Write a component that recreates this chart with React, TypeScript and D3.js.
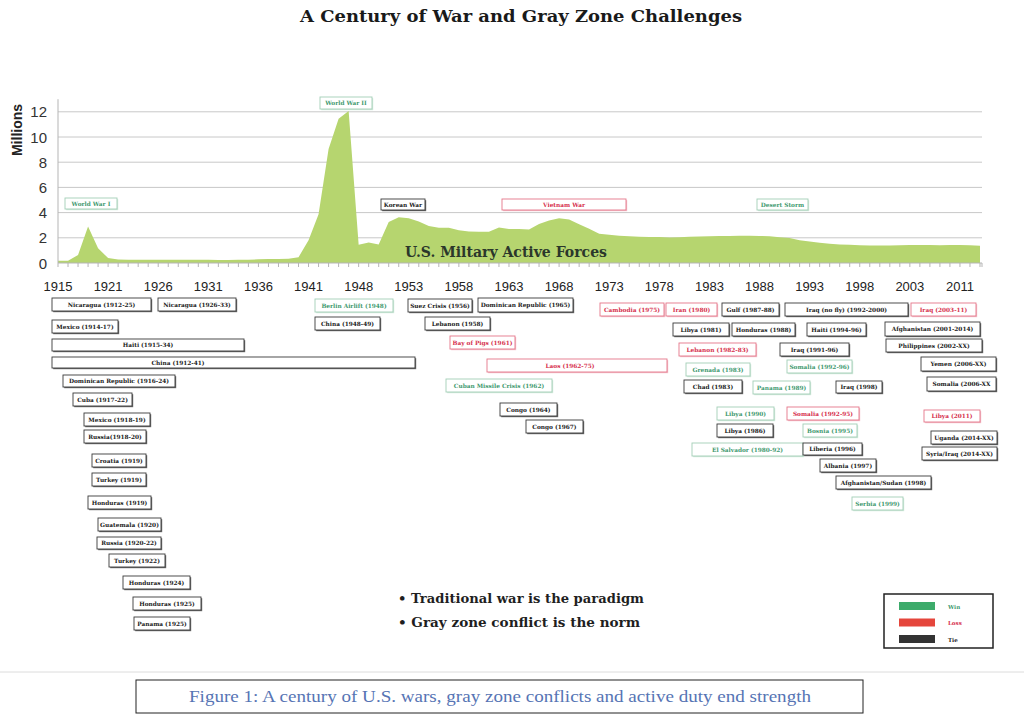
import React from "react";
import * as d3 from "d3";

// ---------- DATA ----------
const years: number[] = [
  1915, 1916, 1917, 1918, 1919, 1921, 1922, 1923, 1924, 1925, 1926, 1927, 1928, 1929, 1930,
  1931, 1932, 1933, 1934, 1935, 1936, 1937, 1938, 1939, 1940, 1941, 1942, 1943, 1944, 1945,
  1948, 1949, 1950, 1951, 1952, 1953, 1954, 1955, 1956, 1957, 1958, 1959, 1960, 1961, 1962,
  1963, 1964, 1965, 1966, 1967, 1968, 1969, 1970, 1971, 1972, 1973, 1974, 1975, 1976, 1977,
  1978, 1979, 1980, 1981, 1982, 1983, 1984, 1985, 1986, 1987, 1988, 1989, 1990, 1991, 1992,
  1993, 1994, 1995, 1996, 1997, 1998, 1999, 2000, 2001, 2002, 2003, 2004, 2006, 2008, 2010,
  2011, 2012, 2013,
];
// U.S. military active forces, millions
const activeForces: number[] = [
  0.17, 0.18, 0.64, 2.9, 1.17, 0.39, 0.27, 0.25, 0.26, 0.25, 0.25, 0.25, 0.25, 0.26, 0.26,
  0.25, 0.24, 0.24, 0.25, 0.25, 0.29, 0.31, 0.32, 0.33, 0.46, 1.8, 3.86, 9.04, 11.45, 12.06,
  1.45, 1.62, 1.46, 3.25, 3.64, 3.56, 3.3, 2.94, 2.8, 2.8, 2.6, 2.5, 2.48, 2.48, 2.81,
  2.7, 2.69, 2.66, 3.09, 3.38, 3.55, 3.46, 3.07, 2.71, 2.32, 2.25, 2.16, 2.13, 2.08, 2.07,
  2.06, 2.03, 2.05, 2.08, 2.11, 2.12, 2.14, 2.15, 2.17, 2.17, 2.14, 2.13, 2.04, 1.99, 1.81,
  1.71, 1.61, 1.52, 1.47, 1.44, 1.41, 1.39, 1.38, 1.39, 1.41, 1.42, 1.43, 1.42, 1.4, 1.43,
  1.43, 1.4, 1.37,
];
const xTickEvery = 5;
const yTicks: number[] = [0, 2, 4, 6, 8, 10, 12];

// W = win, L = loss, T = tie
const conflictLabels: string[] = [
  "World War I", "World War II", "Korean War", "Vietnam War", "Desert Storm",
  "Nicaragua (1912-25)", "Nicaragua (1926-33)", "Mexico (1914-17)", "Haiti (1915-34)", "China (1912-41)",
  "Dominican Republic (1916-24)", "Cuba (1917-22)", "Mexico (1918-19)", "Russia(1918-20)", "Croatia (1919)",
  "Turkey (1919)", "Honduras (1919)", "Guatemala (1920)", "Russia (1920-22)", "Turkey (1922)",
  "Honduras (1924)", "Honduras (1925)", "Panama (1925)",
  "Berlin Airlift (1948)", "China (1948-49)", "Suez Crisis (1956)", "Dominican Republic (1965)", "Lebanon (1958)",
  "Bay of Pigs (1961)", "Laos (1962-75)", "Cuban Missile Crisis (1962)", "Congo (1964)", "Congo (1967)",
  "Cambodia (1975)", "Iran (1980)", "Gulf (1987-88)", "Iraq (no fly) (1992-2000)", "Iraq (2003-11)",
  "Libya (1981)", "Honduras (1988)", "Haiti (1994-96)", "Afghanistan (2001-2014)",
  "Lebanon (1982-83)", "Iraq (1991-96)", "Philippines (2002-XX)",
  "Grenada (1983)", "Somalia (1992-96)", "Yemen (2006-XX)",
  "Chad (1983)", "Panama (1989)", "Iraq (1998)", "Somalia (2006-XX",
  "Libya (1990)", "Somalia (1992-95)", "Libya (2011)",
  "Libya (1986)", "Bosnia (1995)", "Uganda (2014-XX)",
  "El Salvador (1980-92)", "Liberia (1996)", "Syria/Iraq (2014-XX)",
  "Albania (1997)", "Afghanistan/Sudan (1998)", "Serbia (1999)",
];
const conflictOutcomes: string[] = [
  "W", "W", "T", "L", "W",
  "T", "T", "T", "T", "T",
  "T", "T", "T", "T", "T",
  "T", "T", "T", "T", "T",
  "T", "T", "T",
  "W", "T", "T", "T", "T",
  "L", "L", "W", "T", "T",
  "L", "L", "T", "T", "L",
  "T", "T", "T", "T",
  "L", "T", "T",
  "W", "W", "T",
  "T", "W", "T", "T",
  "W", "L", "L",
  "T", "W", "T",
  "W", "T", "T",
  "T", "T", "W",
];
const legendLabels: string[] = ["Win", "Loss", "Tie"];
const legendKeys: string[] = ["W", "L", "T"];
const bullets: string[] = ["Traditional war is the paradigm", "Gray zone conflict is the norm"];

// ---------- LAYOUT (annotation boxes: x0, y0, x1, y1 [, text centre]) ----------
const boxLayout: number[][] = [
  [65, 198, 117, 209], [320, 97, 372, 109], [381, 199, 425, 210], [502, 199, 626, 210], [757, 199, 808, 210],
  [52, 298, 151, 311], [158, 298, 236, 311], [52, 320, 118, 333], [52, 339, 244, 351], [52, 357, 415, 368, 178],
  [63, 375, 175, 387], [73, 393, 132, 406], [84, 413, 150, 426], [84, 430, 146, 443], [92, 454, 146, 467],
  [92, 473, 146, 486], [88, 496, 151, 509], [98, 518, 161, 531], [97, 537, 161, 549], [109, 554, 165, 567],
  [123, 576, 190, 589], [133, 597, 201, 610], [134, 617, 190, 630],
  [315, 299, 393, 312], [315, 317, 380, 330], [408, 299, 472, 312], [478, 298, 573, 312], [425, 317, 490, 330],
  [450, 336, 515, 349], [487, 359, 667, 372, 570], [446, 379, 552, 392], [500, 403, 557, 416], [526, 420, 583, 433],
  [600, 303, 664, 316], [666, 303, 717, 316], [722, 303, 779, 316], [785, 303, 908, 316], [911, 303, 976, 316],
  [673, 323, 729, 336], [732, 323, 795, 336], [807, 323, 866, 336], [885, 322, 980, 336],
  [679, 343, 756, 356], [780, 343, 849, 356], [886, 339, 982, 352],
  [686, 363, 750, 376], [787, 360, 852, 373], [921, 357, 996, 371],
  [684, 380, 742, 393], [753, 381, 810, 394], [836, 381, 882, 393], [927, 377, 996, 391],
  [717, 407, 774, 420], [787, 407, 859, 420], [924, 410, 980, 422],
  [717, 424, 773, 437], [803, 424, 857, 437], [931, 431, 997, 444],
  [692, 443, 803, 456], [803, 443, 862, 455], [922, 447, 997, 460],
  [820, 459, 876, 472], [836, 476, 931, 489], [852, 497, 903, 510],
];

const outcomeStyle: Record<string, { text: string; stroke: string; shadow: string; swatch: string }> = {
  W: { text: "#3f9a70", stroke: "#a3cfb6", shadow: "#d3e9dc", swatch: "#3dab6b" },
  L: { text: "#d62f4d", stroke: "#e57689", shadow: "#f3c1ca", swatch: "#e5463c" },
  T: { text: "#1a1a1a", stroke: "#3a3a3a", shadow: "#6a6a6a", swatch: "#333333" },
};

export default function App() {
  const W = 1024;
  const H = 724;
  const plotLeft = 58;
  const plotRight = 982;
  const x = d3.scalePoint<number>().domain(years).range([plotLeft, 980]);
  const y = d3.scaleLinear().domain([0, 13]).range([263, 99.2]);
  const areaGen = d3
    .area<number>()
    .x((_, i) => x(years[i]) as number)
    .y0(y(0))
    .y1((d) => y(d));
  const areaPath = areaGen(activeForces) || "";

  const sans = "'Liberation Sans', Arial, sans-serif";
  const serif = "'DejaVu Serif', serif";

  return (
    <svg
      width={W}
      height={H}
      viewBox={`0 0 ${W} ${H}`}
      style={{ position: "absolute", left: 0, top: 0, background: "#fff" }}
    >
      <rect x={0} y={0} width={W} height={H} fill="#fff" />
      {/* Title */}
      <text
        x={521}
        y={22}
        textAnchor="middle"
        fontFamily={serif}
        fontWeight="bold"
        fontSize={16.5}
        textLength={442}
        lengthAdjust="spacingAndGlyphs"
        fill="#1a1a1a"
      >
        A Century of War and Gray Zone Challenges
      </text>

      {/* Gridlines */}
      {yTicks.filter((t) => t > 0).map((t) => (
        <line key={t} x1={plotLeft} x2={plotRight} y1={y(t)} y2={y(t)} stroke="#c8c8c8" strokeWidth={1} />
      ))}

      {/* Area */}
      <path d={areaPath} fill="#b6d56f" />

      {/* Axes */}
      <line x1={plotLeft} x2={plotLeft} y1={y(13)} y2={y(0)} stroke="#b5b5b5" strokeWidth={1} />
      <line x1={plotLeft} x2={plotRight} y1={y(0)} y2={y(0)} stroke="#b5b5b5" strokeWidth={1} />
      {years.map((yr) => (
        <line key={yr} x1={x(yr)} x2={x(yr)} y1={y(0)} y2={y(0) + 4} stroke="#b5b5b5" strokeWidth={1} />
      ))}
      <line x1={plotRight} x2={plotRight} y1={y(0)} y2={y(0) + 4} stroke="#b5b5b5" strokeWidth={1} />
      {years.filter((_, i) => i % xTickEvery === 0).map((yr) => (
        <text key={yr} x={x(yr)} y={291} textAnchor="middle" fontFamily={sans} fontSize={13} fill="#222">
          {yr}
        </text>
      ))}
      {yTicks.map((t) => (
        <text key={t} x={47} y={y(t) + 5.5} textAnchor="end" fontFamily={sans} fontSize={15} fill="#333">
          {t}
        </text>
      ))}
      <text
        transform={`translate(22,130) rotate(-90)`}
        textAnchor="middle"
        fontFamily={sans}
        fontWeight="bold"
        fontSize={14}
        fill="#222"
      >
        Millions
      </text>

      {/* Series label */}
      <text
        x={405}
        y={257}
        fontFamily={serif}
        fontWeight="bold"
        fontSize={14}
        textLength={202}
        lengthAdjust="spacingAndGlyphs"
        fill="#2b372b"
      >
        U.S. Miltary Active Forces
      </text>

      {/* Conflict boxes */}
      {conflictLabels.map((label, i) => {
        const b = boxLayout[i];
        const st = outcomeStyle[conflictOutcomes[i]];
        const [x0, y0, x1, y1] = b;
        const tx = b.length > 4 ? b[4] : (x0 + x1) / 2;
        return (
          <g key={i}>
            <rect x={x0 + 1.2} y={y0 + 1.2} width={x1 - x0} height={y1 - y0} fill={st.shadow} />
            <rect x={x0} y={y0} width={x1 - x0} height={y1 - y0} fill="#fff" stroke={st.stroke} strokeWidth={0.9} />
            <text
              x={tx}
              y={(y0 + y1) / 2 + 2.2}
              textAnchor="middle"
              fontFamily={serif}
              fontWeight="bold"
              fontSize={5.8}
              fill={st.text}
            >
              {label}
            </text>
          </g>
        );
      })}

      {/* Bullets */}
      {bullets.map((b, i) => (
        <text
          key={i}
          x={398}
          y={603 + i * 24}
          fontFamily={serif}
          fontWeight="bold"
          fontSize={13}
          textLength={i === 0 ? 246 : 242}
          lengthAdjust="spacingAndGlyphs"
          fill="#1f1f1f"
        >
          {"\u2022 " + b}
        </text>
      ))}

      {/* Legend */}
      <rect x={884} y={594} width={109} height={54} fill="#fff" stroke="#222" strokeWidth={1.5} />
      {legendKeys.map((k, i) => (
        <g key={k}>
          <rect x={899} y={602 + i * 16.5} width={36} height={8} fill={outcomeStyle[k].swatch} />
          <text
            x={948}
            y={608.5 + i * 16.5}
            fontFamily={serif}
            fontSize={5.5}
            fontWeight="bold"
            fill={outcomeStyle[k].text}
          >
            {legendLabels[i]}
          </text>
        </g>
      ))}

      {/* Separator and caption */}
      <line x1={0} x2={W} y1={672} y2={672} stroke="#dcdcdc" strokeWidth={1} />
      <rect x={136} y={680} width={727} height={33} fill="#fff" stroke="#222" strokeWidth={1} />
      <text
        x={500}
        y={702}
        textAnchor="middle"
        fontFamily="'Liberation Serif', 'Times New Roman', serif"
        fontSize={17}
        textLength={622}
        lengthAdjust="spacingAndGlyphs"
        fill="#5674b4"
      >
        Figure 1: A century of U.S. wars, gray zone conflicts and active duty end strength
      </text>
    </svg>
  );
}
